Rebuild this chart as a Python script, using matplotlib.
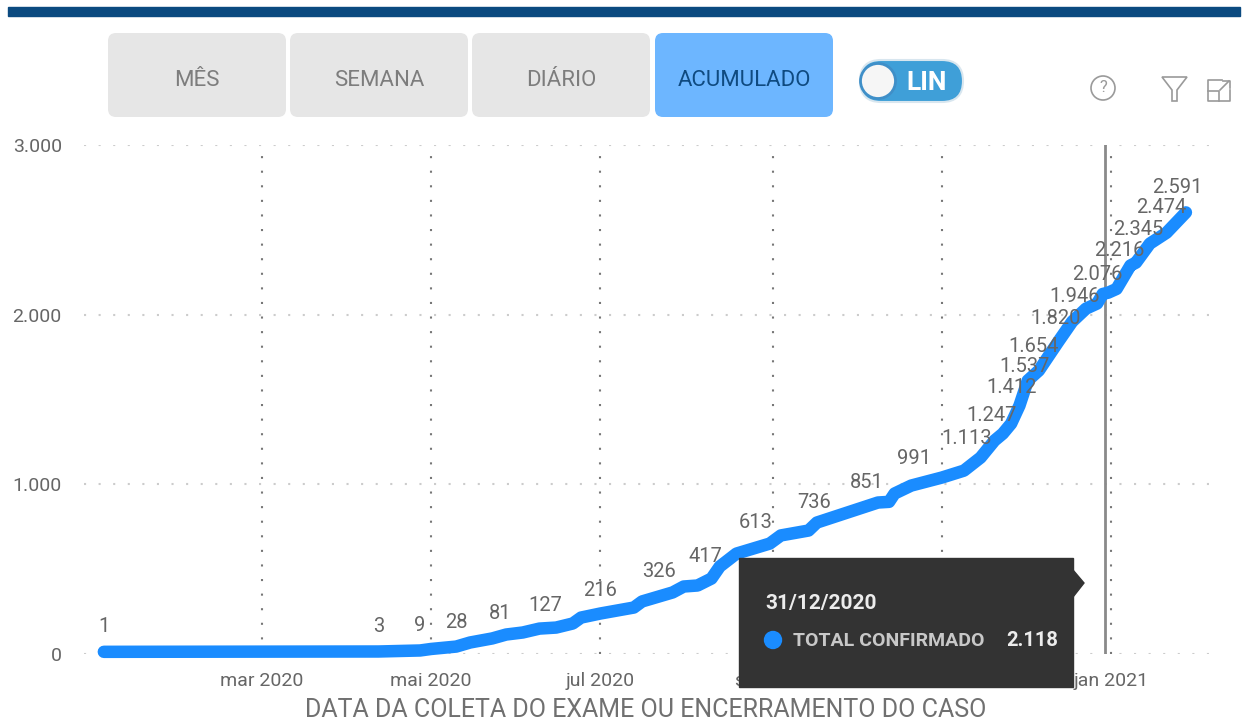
#!/usr/bin/env python3
# -*- coding: utf-8 -*-

from datetime import datetime

import matplotlib
matplotlib.use('Agg')
import matplotlib.dates as mdates
import matplotlib.pyplot as plt
from matplotlib.patches import Circle, FancyBboxPatch, Polygon, Rectangle
from matplotlib.transforms import offset_copy

plt.rcParams['font.family'] = ['Roboto', 'DejaVu Sans']

curve_dates = ['2020-01-04', '2020-04-12', '2020-04-27', '2020-05-01', '2020-05-10',
               '2020-05-15', '2020-05-23', '2020-05-28', '2020-06-03', '2020-06-09',
               '2020-06-15', '2020-06-21', '2020-06-24', '2020-07-01', '2020-07-13',
               '2020-07-16', '2020-07-27', '2020-07-31', '2020-08-05', '2020-08-10',
               '2020-08-13', '2020-08-19', '2020-08-31', '2020-09-04', '2020-09-14',
               '2020-09-17', '2020-09-28', '2020-10-09', '2020-10-13', '2020-10-15',
               '2020-10-21', '2020-11-01', '2020-11-09', '2020-11-15', '2020-11-20',
               '2020-11-23', '2020-11-26', '2020-11-29', '2020-12-02', '2020-12-06',
               '2020-12-13', '2020-12-18', '2020-12-23', '2020-12-27', '2020-12-29',
               '2020-12-31', '2021-01-03', '2021-01-08', '2021-01-10', '2021-01-15',
               '2021-01-21', '2021-01-28']
curve_values = [1, 3, 9, 18, 32, 56, 80, 103, 115, 138,
                144, 168, 203, 227, 262, 298, 351, 386, 392, 433,
                504, 580, 639, 687, 716, 763, 822, 881, 885, 934,
                981, 1028, 1069, 1146, 1246, 1287, 1346, 1452, 1600, 1659,
                1829, 1947, 2024, 2054, 2110, 2118, 2140, 2278, 2295, 2407,
                2471, 2591]

label_dates = ['2020-01-04', '2020-04-12', '2020-04-27', '2020-05-10', '2020-05-26',
               '2020-06-11', '2020-07-01', '2020-07-22', '2020-08-08', '2020-08-26',
               '2020-09-16', '2020-10-05', '2020-10-22', '2020-11-10', '2020-11-19',
               '2020-11-26', '2020-12-01', '2020-12-04', '2020-12-12', '2020-12-19',
               '2020-12-27', '2021-01-04', '2021-01-11', '2021-01-19', '2021-01-25']
label_values = [1, 3, 9, 28, 81, 127, 216, 326, 417, 613, 736, 851, 991, 1113, 1247,
                1412, 1537, 1654, 1820, 1946, 2076, 2216, 2345, 2474, 2591]

y_ticks = [0, 1000, 2000, 3000]
x_tick_dates = ['2020-03-01', '2020-05-01', '2020-07-01', '2020-09-01', '2020-11-01', '2021-01-01']
x_tick_labels = ['mar 2020', 'mai 2020', 'jul 2020', 'set 2020', 'nov 2020', 'jan 2021']
buttons = ['MÊS', 'SEMANA', 'DIÁRIO', 'ACUMULADO']
tooltip_date = '31/12/2020'
tooltip_name = 'TOTAL CONFIRMADO'
tooltip_value = '2.118'
x_title = 'DATA DA COLETA DO EXAME OU ENCERRAMENTO DO CASO'

W, H = 1242, 726
LINE = '#1a8cff'
GREY = '#666666'
ICON = '#9a9a9a'


def to_date(s):
    return mdates.date2num(datetime.strptime(s, '%Y-%m-%d'))


def fmt(v):
    return f'{v:,}'.replace(',', '.')


def draw_chart(fig):
    left, right, top, bottom = 84, 1215, 145, 654
    ax = fig.add_axes([left / W, 1 - bottom / H, (right - left) / W, (bottom - top) / H])
    # 262px = mar 2020, 1111px = jan 2021
    x0, x1 = to_date('2020-03-01'), to_date('2021-01-01')
    per_px = (x1 - x0) / (1111 - 262)
    ax.set_xlim(x0 - (262 - left) * per_px, x0 + (right - 262) * per_px)
    ax.set_ylim(0, 3000)

    # the thick line sits a little above the zero gridline in the source
    lifted = offset_copy(ax.transData, fig=fig, y=2, units='dots')
    ax.plot([to_date(d) for d in curve_dates], curve_values, color=LINE, lw=9,
            solid_capstyle='round', solid_joinstyle='round', clip_on=False, zorder=3,
            transform=lifted)

    for d, v in zip(label_dates, label_values):
        ax.annotate(fmt(v), (to_date(d), v), xytext=(0, 19.5), textcoords='offset points',
                    ha='center', va='center', fontsize=14.5, color=GREY, zorder=4)

    ax.set_yticks(y_ticks, [fmt(v) for v in y_ticks])
    ax.set_xticks([to_date(d) for d in x_tick_dates], x_tick_labels)
    ax.tick_params(length=0, labelsize=14, labelcolor=GREY)
    ax.tick_params(axis='y', pad=16)
    ax.tick_params(axis='x', pad=13)
    ax.grid(axis='y', color='#cccccc', lw=1.5, ls=(0, (1, 6)))
    ax.grid(axis='x', color='#777777', lw=1.5, ls=(0, (1, 6)))
    ax.set_axisbelow(True)
    for s in ax.spines.values():
        s.set_visible(False)
    ax.patch.set_alpha(0)

    ax.axvline(to_date('2020-12-30'), ymax=1.006, color='#8a8a8a', lw=2, zorder=2)


def draw_ui(fig):
    ui = fig.add_axes([0, 0, 1, 1], zorder=5)
    ui.set_xlim(0, W)
    ui.set_ylim(H, 0)
    ui.axis('off')

    ui.add_patch(Rectangle((8, 7), 1232, 9, color='#0b4a80'))

    for i, (name, x) in enumerate(zip(buttons, [108, 290, 472, 655])):
        active = i == 3
        ui.add_patch(FancyBboxPatch((x + 8, 41), 162, 68, boxstyle='round,pad=8',
                                    fc='#6db6ff' if active else '#e6e6e6', ec='none'))
        ui.text(x + 89, 81, name, ha='center', va='center', fontsize=16,
                color='#0f4a80' if active else '#7d7d7d')

    # LIN toggle
    ui.add_patch(FancyBboxPatch((860, 60), 103, 42, boxstyle='round,pad=0,rounding_size=21',
                                fc='#3f9fd8', ec='#d8e6ef', lw=1.5))
    ui.add_patch(Circle((878, 81), 17.5, fc='#f6f6f6', ec='#3f8fc8', lw=2))
    ui.text(927, 83, 'LIN', ha='center', va='center', fontsize=19, color='white',
            fontweight='bold')

    # help, filter and expand icons
    ui.add_patch(Circle((1103, 88), 12, fc='none', ec=ICON, lw=1.2))
    ui.text(1103, 88, '?', ha='center', va='center', fontsize=12, color=ICON)
    ui.add_patch(Polygon([(1162, 77), (1187, 77), (1177, 90), (1177, 101), (1172, 101), (1172, 90)],
                         fc='none', ec=ICON, lw=1.2))
    ui.plot([1222, 1208, 1208, 1230, 1230], [80, 80, 101, 101, 90], color=ICON, lw=1.2)
    ui.plot([1208, 1219, 1219], [91, 91, 101], color=ICON, lw=1.2)
    ui.plot([1220, 1229], [90, 81], color=ICON, lw=1.2)
    ui.plot([1223, 1230, 1230], [81, 81, 88], color=ICON, lw=1.2)

    # tooltip
    ui.add_patch(Rectangle((739, 558), 334, 129, color='#333333'))
    ui.add_patch(Polygon([(1073, 570), (1084, 583), (1073, 597)], color='#333333'))
    ui.text(765, 603, tooltip_date, va='center', fontsize=15, color='#ececec', fontweight='bold')
    ui.add_patch(Circle((773, 640), 8.5, color=LINE))
    ui.text(793, 641, tooltip_name, va='center', fontsize=14, color='#c8c8c8', fontweight='bold')
    ui.text(1006, 641, tooltip_value, va='center', fontsize=14.5, color='#ececec', fontweight='bold')

    ui.text(646, 710, x_title, ha='center', va='center', fontsize=18, color='#707070')


def main():
    fig = plt.figure(figsize=(W / 100, H / 100), dpi=100)
    draw_chart(fig)
    draw_ui(fig)
    fig.savefig('out.png', dpi=100)


if __name__ == '__main__':
    main()
